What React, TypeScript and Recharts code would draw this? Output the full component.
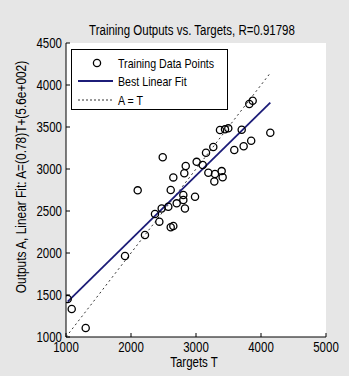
import { ComposedChart, Scatter, Line, XAxis, YAxis, CartesianGrid, Legend } from 'recharts'

// values
const targets = [
  1026, 1088, 1303, 1908, 2215, 2103, 2369, 2436, 2472, 2488,
  2574, 2611, 2651, 2611, 2651, 2703, 2805, 2805, 2830, 2820,
  2842, 2985, 3010, 3103, 3154, 3266, 3190, 3292, 3395, 3410,
  3282, 3369, 3446, 3497, 3703, 3589, 3733, 3849, 4143, 3820,
  3872,
]
const outputs = [
  1452, 1333, 1107, 1964, 2214, 2746, 2464, 2373, 2530, 3139,
  2551, 2306, 2321, 2750, 2900, 2591, 2690, 2631, 2530, 2950,
  3036, 2670, 3085, 3048, 3194, 3262, 2956, 2940, 2975, 2901,
  2852, 3464, 3472, 3484, 3468, 3226, 3270, 3337, 3432, 3774,
  3813,
]
const fitT = [1026, 4143]
const fitA = [1420, 3790]
const equalT = [1000, 4150]
const xTicks = [1000, 2000, 3000, 4000, 5000]
const yTicks = [1000, 1500, 2000, 2500, 3000, 3500, 4000, 4500]

const title = 'Training Outputs vs. Targets, R=0.91798'
const yLabel = 'Outputs A,  Linear Fit: A=(0.78)T+(5.6e+002)'
const xLabel = 'Targets T'

const points = targets.map((t, i) => ({ T: t, A: outputs[i] }))
const fitData = fitT.map((t, i) => ({ T: t, A: fitA[i] }))
const equalData = equalT.map((t) => ({ T: t, A: t }))

// the original uses a narrow Helvetica, so text is squeezed horizontally
const font = "'Liberation Sans', Arial, sans-serif"
const squeeze = 0.82

const Ring = (p: any) => (
  <circle cx={p.cx} cy={p.cy} r={3.6} fill="none" stroke="#000" strokeWidth={1.3} />
)

const XTick = ({ x, y, payload }: any) => (
  <g transform={`translate(${x},${y})`}>
    <text transform={`scale(${squeeze},1)`} textAnchor="middle" dy="0.72em" fontSize={14} fontFamily={font} fill="#000">
      {payload.value}
    </text>
  </g>
)

const YTick = ({ x, y, payload }: any) => (
  <g transform={`translate(${x},${y})`}>
    <text transform={`scale(${squeeze},1)`} textAnchor="end" dy="0.36em" fontSize={14} fontFamily={font} fill="#000">
      {payload.value}
    </text>
  </g>
)

const LegendText = ({ y, children }: any) => (
  <g transform={`translate(47,${y})`}>
    <text transform={`scale(${squeeze},1)`} dy="0.36em" fontSize={13} fontFamily={font}>{children}</text>
  </g>
)

const LegendBox = () => (
  <svg width={157} height={61} style={{ display: 'block' }}>
    <rect x={0.5} y={0.5} width={156} height={60} fill="#fff" stroke="#000" />
    <circle cx={26} cy={14} r={3.6} fill="none" stroke="#000" strokeWidth={1.3} />
    <LegendText y={14}>Training Data Points</LegendText>
    <line x1={7} x2={42} y1={32} y2={32} stroke="#1c1c78" strokeWidth={1.8} />
    <LegendText y={32}>Best Linear Fit</LegendText>
    <line x1={7} x2={42} y1={51} y2={51} stroke="#333" strokeWidth={1} strokeDasharray="2 2" />
    <LegendText y={51}>A = T</LegendText>
  </svg>
)

const YTitle = () => (
  <g transform={`translate(21,177) rotate(-90) scale(0.85,1)`}>
    <text textAnchor="middle" dy="0.36em" fontSize={14} fontFamily={font} fill="#000">
      {yLabel}
    </text>
  </g>
)

const XTitle = () => (
  <g transform={`translate(194,367) scale(${squeeze},1)`}>
    <text textAnchor="middle" fontSize={14} fontFamily={font} fill="#000">
      {xLabel}
    </text>
  </g>
)

export default function App() {
  return (
    <div style={{ position: 'absolute', left: 0, top: 0, width: 349, height: 376, background: '#e6e6e6' }}>
      <div
        style={{
          position: 'absolute', left: 42, top: 22, width: 300, textAlign: 'center',
          fontFamily: font, fontSize: 14, lineHeight: '16px', color: '#000',
          transform: `scaleX(${squeeze})`, whiteSpace: 'nowrap',
        }}
      >
        {title}
      </div>
      <ComposedChart width={349} height={376} margin={{ top: 43, right: 23, left: 0, bottom: 0 }}>
        <CartesianGrid horizontal={false} vertical={false} fill="#fff" />
        <XAxis
          dataKey="T" type="number" domain={[1000, 5000]} ticks={xTicks} allowDataOverflow
          height={39} tickSize={-4} tickMargin={9} tick={<XTick />}
          axisLine={{ stroke: '#000' }} tickLine={{ stroke: '#000' }}
          label={<XTitle />}
        />
        <XAxis
          xAxisId="top" orientation="top" dataKey="T" type="number" domain={[1000, 5000]} ticks={xTicks}
          allowDataOverflow height={0} tickSize={-4} tick={false}
          axisLine={{ stroke: '#000' }} tickLine={{ stroke: '#000' }}
        />
        <YAxis
          type="number" domain={[1000, 4500]} ticks={yTicks} allowDataOverflow
          width={66} tickSize={-4} tickMargin={8} tick={<YTick />}
          axisLine={{ stroke: '#000' }} tickLine={{ stroke: '#000' }}
          label={<YTitle />}
        />
        <YAxis
          yAxisId="right" orientation="right" type="number" domain={[1000, 4500]} ticks={yTicks}
          allowDataOverflow width={0} tickSize={-4} tick={false}
          axisLine={{ stroke: '#000' }} tickLine={{ stroke: '#000' }}
        />
        <Legend
          layout="vertical" align="center" verticalAlign="middle"
          wrapperStyle={{ left: 71, top: 49, width: 157, height: 61 }}
          content={() => <LegendBox />}
        />
        <Line
          data={equalData} dataKey="A" name="A = T" type="linear" dot={false}
          stroke="#333" strokeWidth={1} strokeDasharray="2 3" isAnimationActive={false}
        />
        <Line
          data={fitData} dataKey="A" name="Best Linear Fit" type="linear" dot={false}
          stroke="#1c1c78" strokeWidth={1.8} isAnimationActive={false}
        />
        <Scatter
          data={points} dataKey="A" name="Training Data Points" shape={Ring} isAnimationActive={false}
        />
      </ComposedChart>
    </div>
  )
}
